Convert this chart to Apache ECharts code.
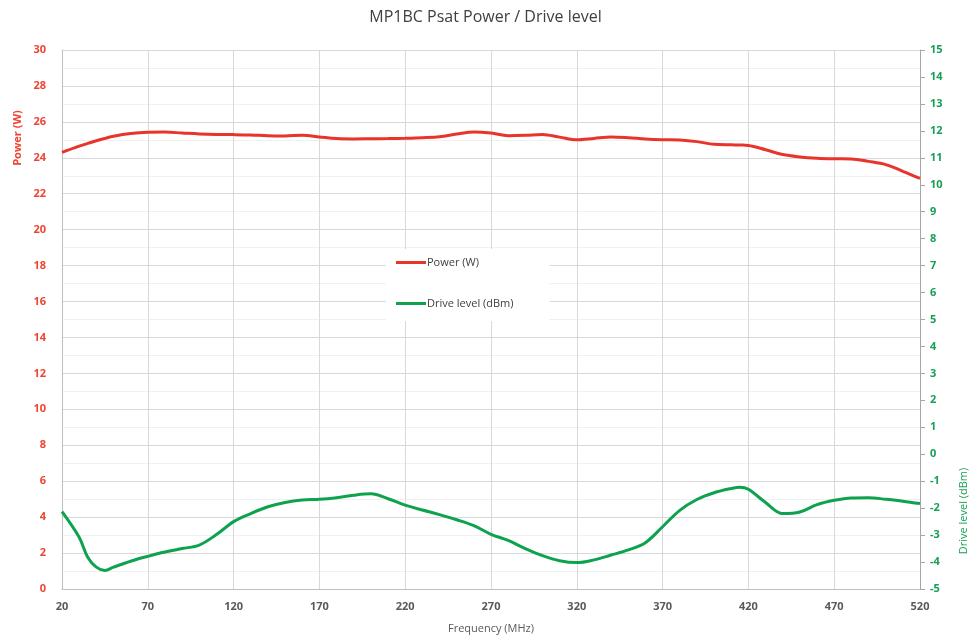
<!DOCTYPE html>
<html>
<head>
<meta charset="utf-8">
<script src="https://cdn.jsdelivr.net/npm/echarts@6/dist/echarts.min.js"></script>
<style>html,body{margin:0;padding:0;background:#fff}#c{width:971px;height:639px}</style>
</head>
<body>
<div id="c"></div>
<script>
var frequencies = [20,30,35,40,45,50,60,70,80,90,100,110,120,130,140,150,160,170,180,190,200,210,220,230,240,250,260,270,280,290,300,310,320,330,340,350,360,370,380,390,400,410,415,420,430,440,450,460,470,480,490,500,510,520];
var powerW = [24.3,24.65,24.8,24.95,25.08,25.2,25.35,25.42,25.43,25.38,25.33,25.3,25.29,25.27,25.23,25.22,25.25,25.16,25.07,25.05,25.06,25.07,25.09,25.12,25.17,25.32,25.44,25.38,25.23,25.25,25.3,25.15,25.0,25.08,25.16,25.12,25.05,25.01,24.99,24.9,24.75,24.72,24.71,24.69,24.45,24.18,24.05,23.98,23.95,23.94,23.8,23.62,23.25,22.85];
var driveDbm = [-2.13,-3.08,-3.82,-4.19,-4.31,-4.19,-3.97,-3.79,-3.63,-3.5,-3.37,-2.98,-2.5,-2.2,-1.95,-1.79,-1.7,-1.67,-1.61,-1.52,-1.47,-1.65,-1.89,-2.07,-2.24,-2.43,-2.65,-2.97,-3.2,-3.5,-3.76,-3.95,-4.02,-3.92,-3.74,-3.55,-3.28,-2.69,-2.08,-1.68,-1.43,-1.27,-1.22,-1.3,-1.79,-2.2,-2.14,-1.87,-1.71,-1.62,-1.61,-1.67,-1.74,-1.83];

var RED = '#e8342a', GREEN = '#0ea24e';
var LRED = '#ee4433', LGREEN = '#17a055';
function pairs(ys) { return frequencies.map(function (f, i) { return [f, ys[i]]; }); }

var chart = echarts.init(document.getElementById('c'));
chart.setOption({
  animation: false,
  backgroundColor: '#fff',
  textStyle: {fontFamily: 'Open Sans'},
  title: {
    text: 'MP1BC Psat Power / Drive level',
    left: 'center', top: 4,
    textStyle: {fontFamily: 'Open Sans', fontSize: 16, fontWeight: 'normal', color: '#404040'}
  },
  grid: {left: 62, right: 51, top: 50, bottom: 47, containLabel: false},
  legend: {
    orient: 'vertical',
    left: 386, top: 249,
    itemWidth: 30, itemHeight: 3, itemGap: 30,
    backgroundColor: '#ffffff',
    padding: [8, 36, 12, 10],
    icon: 'rect',
    textStyle: {fontFamily: 'Open Sans', fontSize: 11, color: '#404040', padding: [0,0,0,-4]},
    data: ['Power (W)', 'Drive level (dBm)']
  },
  xAxis: {
    type: 'value',
    min: 20, max: 520, interval: 50,
    name: 'Frequency (MHz)',
    nameLocation: 'middle',
    nameGap: 34,
    nameTextStyle: {fontFamily: 'Open Sans', fontSize: 11, color: '#595959'},
    axisLine: {show: true, onZero: false, lineStyle: {color: '#bfbfbf', width: 1}},
    axisTick: {show: false},
    axisLabel: {margin: 12, color: '#595959', fontWeight: 'bold', fontSize: 11, fontFamily: 'Open Sans'},
    splitLine: {show: true, lineStyle: {color: '#d9d9d9', width: 1}}
  },
  yAxis: [
    {
      type: 'value', min: 0, max: 30, interval: 2,
      position: 'left',
      axisLine: {show: true, lineStyle: {color: '#bfbfbf'}},
      axisTick: {show: false},
      axisLabel: {color: LRED, fontWeight: 'bold', fontSize: 11, fontFamily: 'Open Sans', margin: 16},
      splitLine: {show: true, lineStyle: {color: '#d9d9d9'}},
      minorTick: {show: false, splitNumber: 2},
      minorSplitLine: {show: true, lineStyle: {color: '#f0f0f0'}}
    },
    {
      type: 'value', min: -5, max: 15, interval: 1,
      position: 'right',
      axisLine: {show: true, lineStyle: {color: '#a6a6a6'}},
      axisTick: {show: true, inside: false, length: 5, lineStyle: {color: '#a6a6a6'}},
      axisLabel: {color: LGREEN, fontWeight: 'bold', fontSize: 11, fontFamily: 'Open Sans', margin: 10},
      splitLine: {show: false}
    }
  ],
  graphic: [
    {type: 'text', x: 18, y: 138, rotation: Math.PI / 2,
     style: {text: 'Power (W)', fill: LRED, font: 'bold 11px "Open Sans"', align: 'center', verticalAlign: 'middle'}},
    {type: 'text', x: 964, y: 511, rotation: Math.PI / 2,
     style: {text: 'Drive level (dBm)', fill: LGREEN, font: '11px "Open Sans"', align: 'center', verticalAlign: 'middle'}}
  ],
  series: [
    {
      name: 'Power (W)', type: 'line', yAxisIndex: 0,
      data: pairs(powerW), smooth: 0.35, symbol: 'none',
      lineStyle: {color: RED, width: 3}, itemStyle: {color: RED}
    },
    {
      name: 'Drive level (dBm)', type: 'line', yAxisIndex: 1,
      data: pairs(driveDbm), smooth: 0.35, symbol: 'none',
      lineStyle: {color: GREEN, width: 3}, itemStyle: {color: GREEN}
    }
  ]
});
</script>
</body>
</html>
